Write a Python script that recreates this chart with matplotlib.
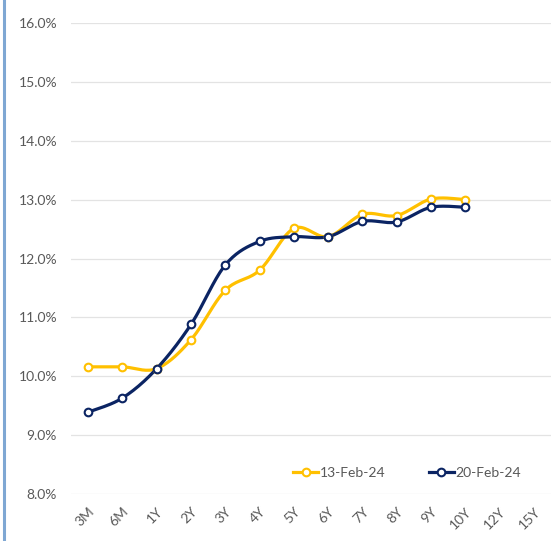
import numpy as np
import matplotlib
matplotlib.use("Agg")
import matplotlib.pyplot as plt
from matplotlib.lines import Line2D

plt.rcParams['font.family'] = ['Lato', 'DejaVu Sans']

tenors = ['3M', '6M', '1Y', '2Y', '3Y', '4Y', '5Y', '6Y', '7Y', '8Y', '9Y', '10Y', '12Y', '15Y']
feb13 = [10.16, 10.16, 10.13, 10.62, 11.46, 11.80, 12.51, 12.37, 12.75, 12.73, 13.01, 13.00]
feb20 = [9.39, 9.63, 10.13, 10.88, 11.89, 12.29, 12.37, 12.37, 12.63, 12.62, 12.87, 12.87]
yticks = [8, 9, 10, 11, 12, 13, 14, 15, 16]

YELLOW = '#FFC000'
NAVY = '#0B2463'
GREY = '#595959'


def smooth(y, n=20, t=0.5):
    # excel-like smoothed line (cardinal spline through the points)
    y = np.asarray(y, float)
    x = np.arange(len(y), dtype=float)
    px = np.concatenate([[x[0]], x, [x[-1]]])
    py = np.concatenate([[y[0]], y, [y[-1]]])
    xs, ys = [], []
    for i in range(1, len(px) - 2):
        p0, p1, p2, p3 = (np.array([px[j], py[j]]) for j in range(i - 1, i + 3))
        m1 = t * (p2 - p0)
        m2 = t * (p3 - p1)
        s = np.linspace(0, 1, n)[:, None]
        h00 = 2 * s**3 - 3 * s**2 + 1
        h10 = s**3 - 2 * s**2 + s
        h01 = -2 * s**3 + 3 * s**2
        h11 = s**3 - s**2
        pts = h00 * p1 + h10 * m1 + h01 * p2 + h11 * m2
        xs.extend(pts[:, 0]); ys.extend(pts[:, 1])
    return np.array(xs), np.array(ys)


fig = plt.figure(figsize=(5.52, 5.41), dpi=100)
ax = fig.add_axes([71 / 552, 1 - 494 / 541, 480 / 552, 471 / 541])

for vals, col, lab in [(feb13, YELLOW, '13-Feb-24'), (feb20, NAVY, '20-Feb-24')]:
    sx, sy = smooth(vals)
    ax.plot(sx, sy, color=col, lw=2.3, solid_capstyle='round', zorder=3)
    ax.plot(range(len(vals)), vals, ls='none', marker='o', ms=5.5, mfc='white',
            mec=col, mew=1.5, zorder=4)

handles = [Line2D([], [], color=c, lw=2.3, marker='o', ms=5.5, mfc='white', mec=c, mew=1.5)
           for c in (YELLOW, NAVY)]
ax.legend(handles, ['13-Feb-24', '20-Feb-24'], loc='center', bbox_to_anchor=(0.70, 0.045),
          ncol=2, frameon=False, fontsize=10, labelcolor=GREY, handlelength=1.8,
          handletextpad=0.1, columnspacing=3.15)

ax.set_xlim(-0.5, len(tenors) - 0.5)
ax.set_ylim(8, 16)
ax.set_xticks(range(len(tenors)))
ax.set_xticklabels(tenors, rotation=45, ha='right', rotation_mode='anchor')
ax.set_yticks(yticks)
ax.set_yticklabels([f'{v:.1f}%' for v in yticks])
ax.tick_params(axis='both', length=0, labelsize=10, labelcolor=GREY)
ax.tick_params(axis='y', pad=10)
ax.tick_params(axis='x', pad=8)
ax.grid(axis='y', color='#E3E3E3', lw=0.9)
ax.set_axisbelow(True)
for s in ax.spines.values():
    s.set_visible(False)

fig.add_artist(Line2D([3.5 / 552, 3.5 / 552], [0, 1], color='#7FA7D3', lw=2.2,
                      transform=fig.transFigure))

fig.savefig('out.png', dpi=100)
